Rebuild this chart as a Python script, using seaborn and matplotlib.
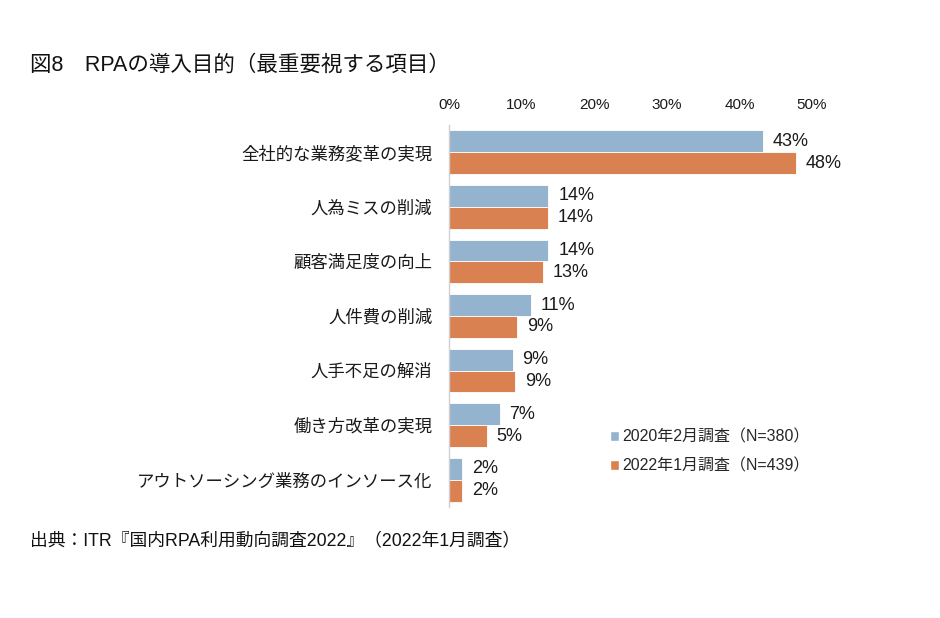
import pandas as pd
import matplotlib.pyplot as plt
import seaborn as sns
from matplotlib.patches import Patch

# --- data ---
categories = ['全社的な業務変革の実現', '人為ミスの削減', '顧客満足度の向上', '人件費の削減',
              '人手不足の解消', '働き方改革の実現', 'アウトソーシング業務のインソース化']
series = ['2020年2月調査（N=380）', '2022年1月調査（N=439）']
values_2020 = [43.2, 13.7, 13.7, 11.3, 8.8, 7.0, 1.8]
values_2022 = [47.8, 13.6, 12.9, 9.4, 9.1, 5.2, 1.8]
labels_2020 = ['43%', '14%', '14%', '11%', '9%', '7%', '2%']
labels_2022 = ['48%', '14%', '13%', '9%', '9%', '5%', '2%']
xticks = [0, 10, 20, 30, 40, 50]
colors = ['#94B3CF', '#D98150']

df = pd.DataFrame({
    'cat': categories * 2,
    'val': values_2020 + values_2022,
    'series': [series[0]] * len(categories) + [series[1]] * len(categories),
})

sns.set_style('white')
# Arial-like latin glyphs, gothic fallback for Japanese
plt.rcParams['font.family'] = ['Liberation Sans', 'Noto Sans CJK JP']

fig = plt.figure(figsize=(9.4, 6.18), dpi=100)
ax = fig.add_axes([449 / 940, 1 - 507 / 618, (812 - 449) / 940, (507 - 125) / 618])

sns.barplot(data=df, y='cat', x='val', hue='series', orient='h', palette=colors,
            saturation=1, width=0.8, edgecolor='white', linewidth=0.6, legend=False, ax=ax)

for cont, labs in zip(ax.containers, [labels_2020, labels_2022]):
    ax.bar_label(cont, labels=labs, padding=7, fontsize=13, color='#1a1a1a')

ax.set_xlim(0, 50)
ax.set_xticks(xticks)
ax.set_xticklabels([f'{t}%' for t in xticks], fontsize=11)
ax.xaxis.tick_top()
ax.tick_params(axis='x', length=0, pad=9.5, labelcolor='#1a1a1a')
ax.tick_params(axis='y', length=0, pad=12, labelsize=12.5, labelcolor='#1a1a1a')
ax.set_xlabel('')
ax.set_ylabel('')
for s in ['top', 'right', 'bottom']:
    ax.spines[s].set_visible(False)
ax.spines['left'].set_color('#d0d0d0')
ax.spines['left'].set_linewidth(1)

handles = [Patch(facecolor=c, label=l) for c, l in zip(colors, series)]
fig.legend(handles=handles, loc='upper left', bbox_to_anchor=(596 / 940, 1 - 415 / 618),
           frameon=False, fontsize=11.5, handlelength=0.55, handleheight=0.55,
           handletextpad=0.2, labelspacing=0.85)

fig.text(30 / 940, 1 - 65 / 618, '図8　RPAの導入目的（最重要視する項目）', fontsize=15.5,
         va='center', ha='left', color='#111111')
fig.text(30 / 940, 1 - 541 / 618, '出典：ITR『国内RPA利用動向調査2022』（2022年1月調査）', fontsize=12.8,
         va='center', ha='left', color='#111111')

fig.savefig('out.png', dpi=100, facecolor='white')
